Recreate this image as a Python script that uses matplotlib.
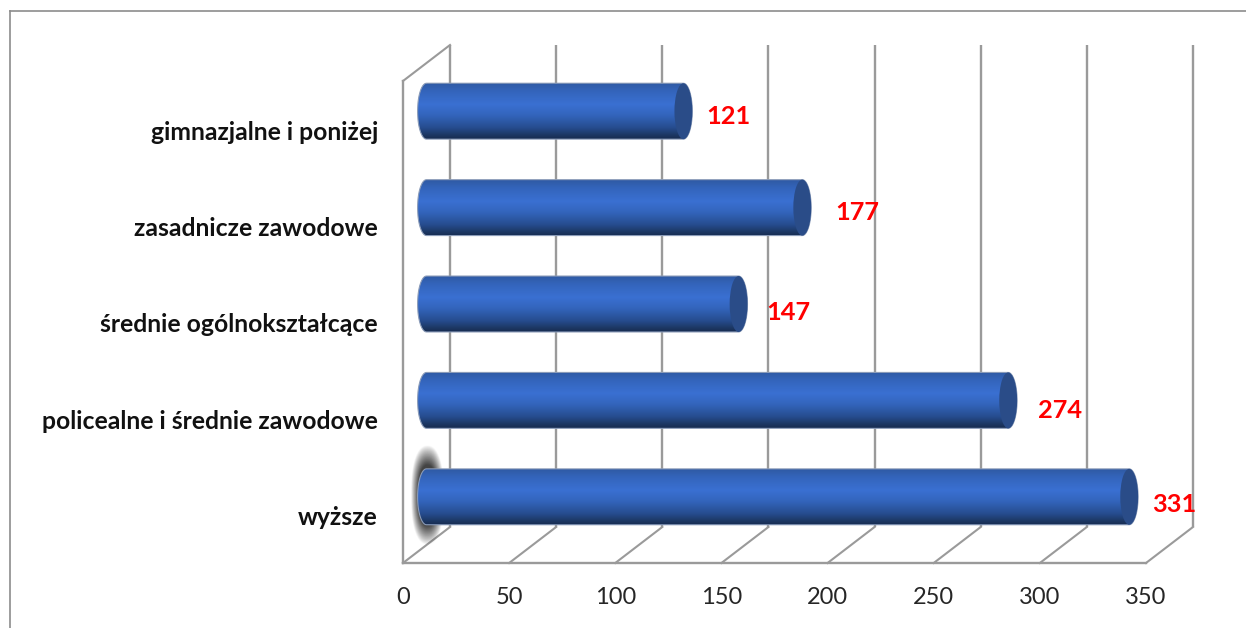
import numpy as np
import matplotlib
matplotlib.use("Agg")
import matplotlib.pyplot as plt
from matplotlib.colors import LinearSegmentedColormap
from matplotlib.patches import Ellipse, PathPatch
from matplotlib.path import Path
from matplotlib.transforms import ScaledTranslation

categories = ["wyższe", "policealne i średnie zawodowe", "średnie ogólnokształcące",
              "zasadnicze zawodowe", "gimnazjalne i poniżej"]
values = [331, 274, 147, 177, 121]
x_ticks = [0, 50, 100, 150, 200, 250, 300, 350]
label_shift_px = [69, 75, 73, 79, 69]
label_rise_px = [10, 8, 9, 13, 13]

W, H = 1246, 628
fig = plt.figure(figsize=(W / 100, H / 100), dpi=100, facecolor="white")
L, R, T, B = 403, 1146, 81, 563
DX, DY = 47, 36
GRID = "#9a9a9a"
ax = fig.add_axes([L / W, 1 - B / H, (R - L) / W, (B - T) / H])
ax.set_xlim(0, 350)
ax.set_ylim(-0.5, 4.5)
ax.patch.set_visible(False)
for s in ax.spines.values():
    s.set_visible(False)

def px(dx, dy):
    return ScaledTranslation(dx / 100, dy / 100, fig.dpi_scale_trans)

back = ax.transData + px(DX, DY)
mid = ax.transData + px(DX / 2, DY / 2)

# 3D box gridlines
for t in x_ticks:
    ax.plot([t, t], [-0.5, 4.5], color=GRID, lw=1.7, transform=back, clip_on=False, zorder=1,
            solid_capstyle="butt")
    fx, fy = ax.transData.transform((t, -0.5))
    ax.plot([fx, fx + DX], [fy, fy + DY], color=GRID, lw=1.5, transform=None, clip_on=False, zorder=1)
ax.plot([0, 0], [-0.5, 4.5], color=GRID, lw=1.7, clip_on=False, zorder=1)
ax.plot([0, 350], [-0.5, -0.5], color=GRID, lw=1.7, clip_on=False, zorder=1)
fx, fy = ax.transData.transform((0, 4.5))
ax.plot([fx, fx + DX], [fy, fy + DY], color=GRID, lw=1.5, transform=None, clip_on=False, zorder=1)

# blurred shadow behind the longest bar's base
yy, xx = np.mgrid[-1:1:160j, -1:1:120j]
r = (np.abs(xx) ** 2.2 + np.abs(yy) ** 2.6) ** (1 / 2.4)
alpha = np.clip((1 - r) / 0.42, 0, 1) ** 0.9 * 0.92
rgba = np.zeros(alpha.shape + (4,))
rgba[..., :3] = 0.2
rgba[..., 3] = alpha
ax.imshow(rgba, extent=[3.8, 19, -0.31, 0.72], aspect="auto", zorder=2, clip_on=False,
          interpolation="bilinear", transform=ax.transData)
ax.set_xlim(0, 350)
ax.set_ylim(-0.5, 4.5)

# cylinder bars
cmap = LinearSegmentedColormap.from_list("cyl", [
    (0.00, "#2f5aa4"), (0.15, "#3465bc"), (0.38, "#3a70d2"), (0.58, "#3364bb"),
    (0.80, "#264c8e"), (0.93, "#1c3763"), (1.00, "#172c50")])
grad = np.linspace(0, 1, 256)[:, None]
BAR_H = 0.58
CAP_W = 4.2
t1 = np.linspace(np.pi / 2, 3 * np.pi / 2, 40)
t2 = np.linspace(-np.pi / 2, np.pi / 2, 40)
for i, v in enumerate(values):
    bar = ax.barh(i, v, height=BAR_H, color="#3262b4", transform=mid, zorder=3)
    vx = np.r_[CAP_W * np.cos(t1), v + CAP_W * np.cos(t2)]
    vy = np.r_[i + BAR_H / 2 * np.sin(t1), i + BAR_H / 2 * np.sin(t2)]
    verts = np.c_[vx, vy]
    verts = np.r_[verts, verts[:1]]
    shape = PathPatch(Path(verts, closed=True), fc="none", ec="#8a9bb8", lw=0.8, transform=mid, zorder=5)
    ax.add_patch(shape)
    im = ax.imshow(grad, cmap=cmap, extent=[-CAP_W, v + CAP_W, i - BAR_H / 2, i + BAR_H / 2],
                   aspect="auto", zorder=4, transform=mid, clip_on=True)
    im.set_clip_path(shape)
    ax.add_patch(Ellipse((v, i), 2 * CAP_W, BAR_H, fc="#2a4c88", ec="none", transform=mid, zorder=6))
    ax.annotate(str(v), (v, i), xycoords=ax.transData,
                xytext=(label_shift_px[i] * 0.72, label_rise_px[i] * 0.72), textcoords="offset points",
                ha="center", va="center", color="#ff0000", fontsize=18.3, fontweight="bold",
                family="Lato", zorder=7, annotation_clip=False)
ax.set_xlim(0, 350)
ax.set_ylim(-0.5, 4.5)

ax.set_xticks(x_ticks)
ax.set_xticklabels([str(t) for t in x_ticks], family="Lato", fontsize=17, color="#262626")
ax.set_yticks(range(len(categories)))
ax.set_yticklabels(categories, family="Lato", fontsize=17.8, fontweight="bold", color="#111111")
ax.tick_params(axis="both", length=0)
ax.tick_params(axis="x", pad=17)
ax.tick_params(axis="y", pad=18)
for lab in ax.get_yticklabels():
    lab.set_transform(lab.get_transform() + px(0, -1))

# outer chart frame
for xs, ys in [([10, 1246], [11, 11]), ([10, 10], [11, 628])]:
    fig.add_artist(plt.Line2D([x / W for x in xs], [1 - y / H for y in ys], color="#8c8c8c", lw=1.2))

fig.savefig("out.png", dpi=100, facecolor="white")
